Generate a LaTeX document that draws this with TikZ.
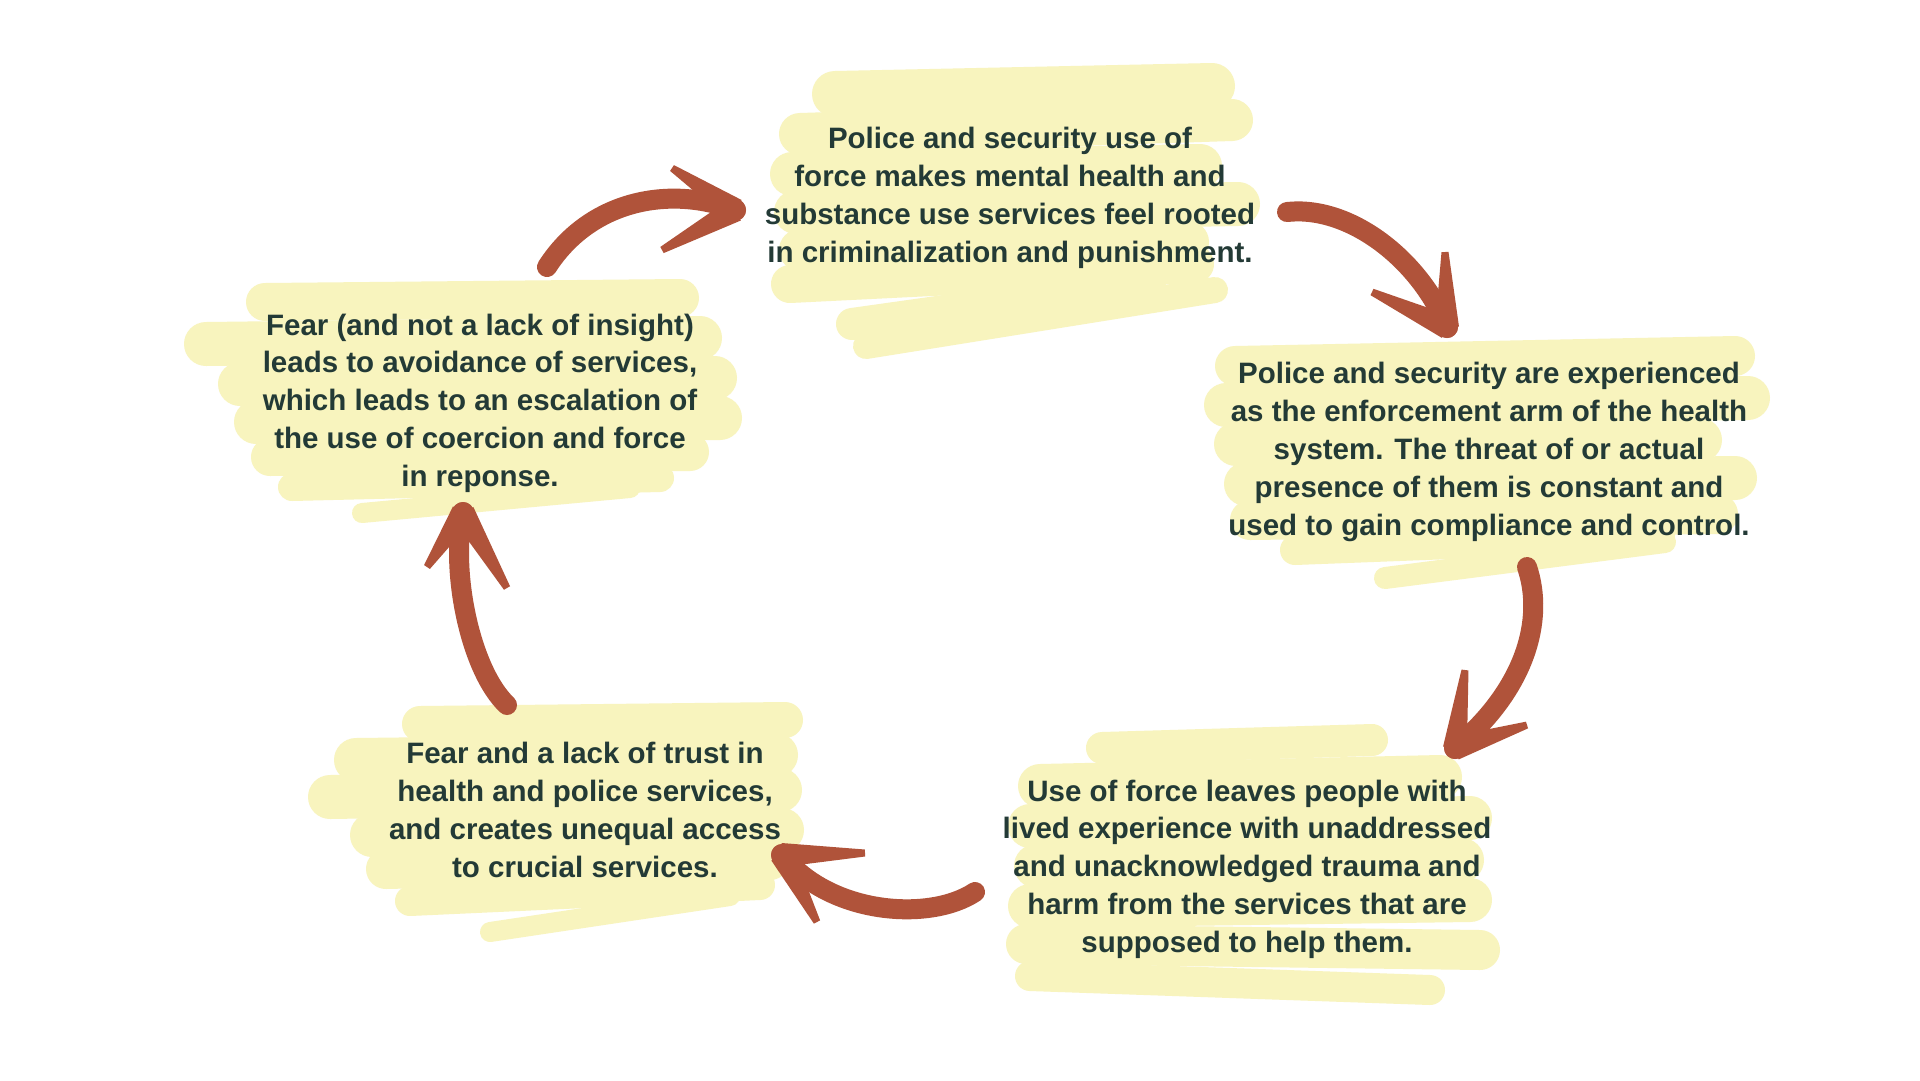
\documentclass[tikz,border=0pt]{standalone}
\usepackage{fontspec}
\setmainfont{Liberation Sans}
\usetikzlibrary{calc}
\definecolor{hl}{RGB}{248,244,190}
\definecolor{brush}{RGB}{176,83,58}
\definecolor{ink}{RGB}{35,58,54}
\tikzset{
  hlstroke/.style={draw=hl, line cap=round, line width=#1},
  shaft/.style={draw=brush, line cap=round, line width=20pt},
  txt/.style={text=ink, align=center, font=\fontsize{29.5}{37.8}\selectfont\bfseries, inner sep=0pt}
}
\newcommand{\barbto}[2]{%
  \fill[brush] ($(#1)!12pt!90:(#2)$) -- ($(#2)!3.5pt!-90:(#1)$) -- ($(#2)!3.5pt!90:(#1)$) -- ($(#1)!12pt!-90:(#2)$) -- cycle;
  \fill[brush] (#1) circle (11pt);}
\begin{document}
\begin{tikzpicture}[x=1pt,y=-1pt]
\useasboundingbox[fill=white] (0,0) rectangle (1920,1080);
% ---------- highlighter scribbles ----------
% top
\draw[hlstroke=46pt] (835,94) -- (1212,86);
\draw[hlstroke=42pt] (800,134) -- (1232,120);
\draw[hlstroke=44pt] (792,174) -- (1200,166);
\draw[hlstroke=44pt] (796,212) -- (1238,204);
\draw[hlstroke=42pt] (800,250) -- (1188,242);
\draw[hlstroke=38pt] (790,284) -- (1195,264);
\draw[hlstroke=32pt] (852,324) -- (1150,282);
\draw[hlstroke=26pt] (866,346) -- (1215,290);
% right
\draw[hlstroke=40pt] (1235,366) -- (1735,356);
\draw[hlstroke=44pt] (1226,405) -- (1748,398);
\draw[hlstroke=44pt] (1236,444) -- (1700,440);
\draw[hlstroke=44pt] (1246,484) -- (1735,478);
\draw[hlstroke=40pt] (1250,520) -- (1718,514);
\draw[hlstroke=30pt] (1295,550) -- (1660,536);
\draw[hlstroke=22pt] (1385,578) -- (1665,542);
% bottom right
\draw[hlstroke=32pt] (1102,748) -- (1372,740);
\draw[hlstroke=44pt] (1040,786) -- (1440,777);
\draw[hlstroke=44pt] (1030,826) -- (1470,818);
\draw[hlstroke=44pt] (1036,866) -- (1462,860);
\draw[hlstroke=44pt] (1030,906) -- (1470,900);
\draw[hlstroke=40pt] (1026,944) -- (1480,950);
\draw[hlstroke=30pt] (1030,976) -- (1430,990);
% bottom left
\draw[hlstroke=36pt] (420,724) -- (785,720);
\draw[hlstroke=44pt] (356,760) -- (776,755);
\draw[hlstroke=44pt] (330,797) -- (780,790);
\draw[hlstroke=44pt] (372,835) -- (782,830);
\draw[hlstroke=40pt] (386,869) -- (770,860);
\draw[hlstroke=30pt] (410,901) -- (760,885);
\draw[hlstroke=20pt] (490,932) -- (730,896);
% left
\draw[hlstroke=38pt] (265,302) -- (680,298);
\draw[hlstroke=44pt] (206,344) -- (700,338);
\draw[hlstroke=44pt] (240,384) -- (715,378);
\draw[hlstroke=44pt] (256,422) -- (720,418);
\draw[hlstroke=38pt] (270,457) -- (690,452);
\draw[hlstroke=28pt] (292,487) -- (660,478);
\draw[hlstroke=20pt] (362,513) -- (630,488);
% ---------- texts ----------
\node[txt] (n1) at (1010,198) {Police and security use of\\force makes mental health and\\substance use services feel rooted\\in criminalization and punishment.};
\node[txt] (n2) at (1489,452) {Police and security are experienced\\as the enforcement arm of the health\\system. The threat of or actual\\presence of them is constant and\\used to gain compliance and control.};
\node[txt] (n3) at (1247,869) {Use of force leaves people with\\lived experience with unaddressed\\and unacknowledged trauma and\\harm from the services that are\\supposed to help them.};
\node[txt] (n4) at (585,810) {Fear and a lack of trust in\\health and police services,\\and creates unequal access\\to crucial services.};
\node[txt] (n5) at (480,403) {Fear (and not a lack of insight)\\leads to avoidance of services,\\which leads to an escalation of\\the use of coercion and force\\in reponse.};
% ---------- arrows ----------
\coordinate (a1t) at (547,267); \coordinate (a1h) at (735,210);
\coordinate (a1b) at (672,168); \coordinate (a1c) at (662,250);
\coordinate (a2t) at (1287,212); \coordinate (a2h) at (1447,327);
\coordinate (a2b) at (1445,252); \coordinate (a2c) at (1372,292);
\coordinate (a3t) at (1527,567); \coordinate (a3h) at (1455,748);
\coordinate (a3b) at (1465,670); \coordinate (a3c) at (1527,725);
\coordinate (a4t) at (975,892); \coordinate (a4h) at (782,855);
\coordinate (a4b) at (865,853); \coordinate (a4c) at (817,922);
\coordinate (a5t) at (507,705); \coordinate (a5h) at (463,513);
\coordinate (a5b) at (427,567); \coordinate (a5c) at (507,588);
\draw[shaft] (a1t) .. controls (590,200) and (670,185) .. (a1h);
\barbto{a1h}{a1b}\barbto{a1h}{a1c}
\draw[shaft] (a2t) .. controls (1350,205) and (1420,260) .. (a2h);
\barbto{a2h}{a2b}\barbto{a2h}{a2c}
\draw[shaft] (a3t) .. controls (1545,620) and (1525,690) .. (a3h);
\barbto{a3h}{a3b}\barbto{a3h}{a3c}
\draw[shaft] (a4t) .. controls (930,922) and (830,915) .. (a4h);
\barbto{a4h}{a4b}\barbto{a4h}{a4c}
\draw[shaft] (a5t) .. controls (470,670) and (450,570) .. (a5h);
\barbto{a5h}{a5b}\barbto{a5h}{a5c}
\end{tikzpicture}
\end{document}
